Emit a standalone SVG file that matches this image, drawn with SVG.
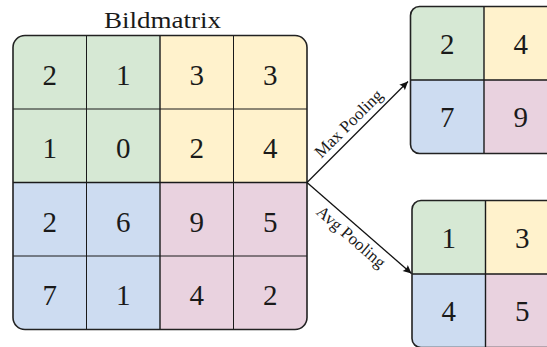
<svg xmlns="http://www.w3.org/2000/svg" width="547" height="347" viewBox="0 0 547 347">
<style>
  .g{fill:#d6e8d4}
  .y{fill:#fff2cc}
  .b{fill:#cddcf1}
  .p{fill:#e9d2df}
  .grid{stroke:#1a1a1a;stroke-width:1;fill:none}
  .div{stroke:#1a1a1a;stroke-width:1.4;fill:none}
  .frame{stroke:#222;stroke-width:1.6;fill:none}
  .arrow{stroke:#111;stroke-width:1.3;fill:none}
</style>
<defs>
  <clipPath id="cm"><rect x="13" y="35.5" width="294" height="294" rx="12"/></clipPath>
  <clipPath id="ct"><rect x="410.5" y="6.5" width="147" height="147" rx="9"/></clipPath>
  <clipPath id="cb"><rect x="412" y="200.5" width="147" height="147" rx="9"/></clipPath>
  <marker id="ah" markerUnits="userSpaceOnUse" markerWidth="12" markerHeight="12" viewBox="-8 -5 10 10" refX="0" refY="0" orient="auto">
    <path d="M0,0 L-7,-3.3 Q-5,0 -7,3.3 Z" fill="#111"/>
  </marker>
</defs>

<text x="162.5" y="28.3" font-family="Liberation Serif, serif" font-size="23.5" fill="#1a1a1a" text-anchor="middle" textLength="117" lengthAdjust="spacingAndGlyphs">Bildmatrix</text>

<g id="bildmatrix">
  <g clip-path="url(#cm)">
    <rect class="g" x="13" y="35.5" width="147" height="147"/>
    <rect class="y" x="160" y="35.5" width="147" height="147"/>
    <rect class="b" x="13" y="182.5" width="147" height="147"/>
    <rect class="p" x="160" y="182.5" width="147" height="147"/>
  </g>
  <path class="grid" d="M86.5,35.5V329.5 M233.5,35.5V329.5 M13,109H307 M13,256H307"/>
  <path class="div" d="M160,35.5V329.5 M13,182.5H307"/>
  <rect class="frame" x="13" y="35.5" width="294" height="294" rx="12"/>
  <g font-family="Liberation Serif, serif" font-size="29" fill="#1a1a1a" text-anchor="middle">
    <text x="49.75" y="84.5">2</text>
    <text x="123.25" y="84.5">1</text>
    <text x="196.75" y="84.5">3</text>
    <text x="270.25" y="84.5">3</text>
    <text x="49.75" y="158">1</text>
    <text x="123.25" y="158">0</text>
    <text x="196.75" y="158">2</text>
    <text x="270.25" y="158">4</text>
    <text x="49.75" y="231.5">2</text>
    <text x="123.25" y="231.5">6</text>
    <text x="196.75" y="231.5">9</text>
    <text x="270.25" y="231.5">5</text>
    <text x="49.75" y="305">7</text>
    <text x="123.25" y="305">1</text>
    <text x="196.75" y="305">4</text>
    <text x="270.25" y="305">2</text>
  </g>
</g>

<g id="maxpool">
  <g clip-path="url(#ct)">
    <rect class="g" x="410.5" y="6.5" width="73.5" height="73.5"/>
    <rect class="y" x="484" y="6.5" width="73.5" height="73.5"/>
    <rect class="b" x="410.5" y="80" width="73.5" height="73.5"/>
    <rect class="p" x="484" y="80" width="73.5" height="73.5"/>
  </g>
  <path class="div" d="M484,6.5V153.5 M410.5,80H557.5"/>
  <rect class="frame" x="410.5" y="6.5" width="147" height="147" rx="9"/>
  <g font-family="Liberation Serif, serif" font-size="29" fill="#1a1a1a" text-anchor="middle">
    <text x="447.25" y="53.5">2</text>
    <text x="520.75" y="53.5">4</text>
    <text x="447.25" y="127">7</text>
    <text x="520.75" y="127">9</text>
  </g>
</g>

<g id="avgpool">
  <g clip-path="url(#cb)">
    <rect class="g" x="412" y="200.5" width="73.5" height="73.5"/>
    <rect class="y" x="485.5" y="200.5" width="73.5" height="73.5"/>
    <rect class="b" x="412" y="274" width="73.5" height="73.5"/>
    <rect class="p" x="485.5" y="274" width="73.5" height="73.5"/>
  </g>
  <path class="div" d="M485.5,200.5V347.5 M412,274H559"/>
  <rect class="frame" x="412" y="200.5" width="147" height="147" rx="9"/>
  <g font-family="Liberation Serif, serif" font-size="29" fill="#1a1a1a" text-anchor="middle">
    <text x="448.75" y="248">1</text>
    <text x="522.25" y="248">3</text>
    <text x="448.75" y="321.3">4</text>
    <text x="522.25" y="321.3">5</text>
  </g>
</g>

<g id="connectors">
  <line class="arrow" x1="307" y1="182.5" x2="408" y2="81.5" marker-end="url(#ah)"/>
  <line class="arrow" x1="307" y1="182.5" x2="411.5" y2="273.5" marker-end="url(#ah)"/>
  <g font-family="Liberation Serif, serif" font-size="17" fill="#1a1a1a" text-anchor="middle">
    <text transform="translate(356,131) rotate(-45)" x="0" y="-5">Max Pooling</text>
    <text transform="translate(358,229) rotate(40.9)" x="0" y="16">Avg Pooling</text>
  </g>
</g>
</svg>
